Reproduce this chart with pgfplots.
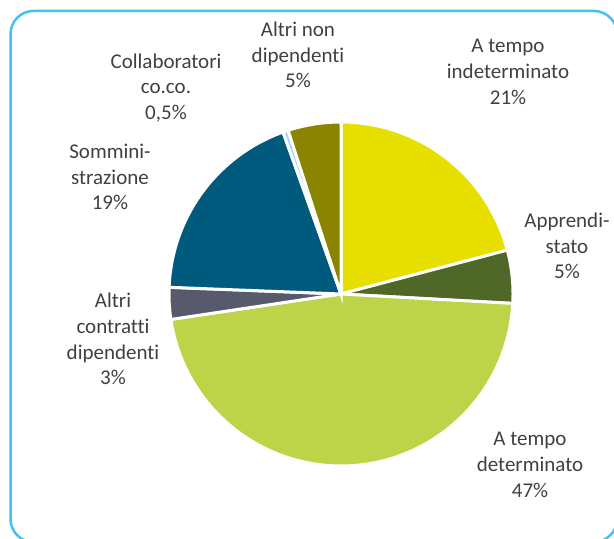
\documentclass[border=0pt]{standalone}
\usepackage{pgfplots}
\pgfplotsset{compat=1.18}
\usepackage{fontspec}
\setmainfont{Carlito}[Ligatures=NoCommon]
\definecolor{cInd}{HTML}{E6DF00}
\definecolor{cApp}{HTML}{4F6828}
\definecolor{cDet}{HTML}{BDD448}
\definecolor{cAlt}{HTML}{575A6C}
\definecolor{cSom}{HTML}{005A7D}
\definecolor{cCol}{HTML}{A0D8EF}
\definecolor{cNon}{HTML}{8B8400}
\definecolor{cFrame}{HTML}{45C0F0}
\definecolor{cTxt}{HTML}{404040}
\tikzset{lbl/.style={align=center, text=cTxt, font=\fontsize{21bp}{25.7bp}\selectfont}}
\begin{document}
\begin{tikzpicture}
\begin{axis}[at={(0,0)}, anchor=south west, scale only axis,
  width=614bp, height=539bp, xmin=0, xmax=614, ymin=0, ymax=539,
  hide axis, clip=false]
\xdef\cur{90}
\foreach \v/\c in {21/cInd,5/cApp,47/cDet,3/cAlt,19/cSom,0.5/cCol,5/cNon}{
  \pgfmathsetmacro\nxt{\cur-\v*3.5820896}
  \edef\temp{\noexpand\addplot[fill=\c, draw=white, line width=3bp, no markers, domain=\nxt:\cur, samples=90] ({341+172*cos(x)},{245+172*sin(x)}) -- (341,245) -- cycle;}
  \temp
  \xdef\cur{\nxt}
}
\draw[color=cFrame, line width=2.5bp, rounded corners=23bp] (10.5,-3) rectangle (617,528);
\node[lbl] at (508,467) {A tempo\\indeterminato\\21\%};
\node[lbl] at (567,293) {Apprendi-\\stato\\5\%};
\node[lbl] at (530,74) {A tempo\\determinato\\47\%};
\node[lbl] at (113,200) {Altri\\contratti\\dipendenti\\3\%};
\node[lbl] at (110,362) {Sommini-\\strazione\\19\%};
\node[lbl] at (166,451) {Collaboratori\\co.co.\\0,5\%};
\node[lbl] at (298,484) {Altri non\\dipendenti\\5\%};
\end{axis}
\pgfresetboundingbox
\useasboundingbox (0,0) rectangle (614bp,539bp);
\end{tikzpicture}
\end{document}
